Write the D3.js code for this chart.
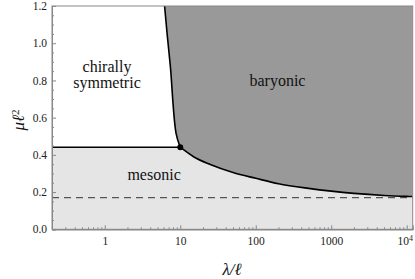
<!DOCTYPE html>
<html><head><meta charset="utf-8">
<script src="https://cdn.jsdelivr.net/npm/d3@7"></script>
<style>
body{margin:0;background:#fff;}
svg text{font-family:'Liberation Serif','DejaVu Serif',serif !important;}
</style></head>
<body><svg id="c" width="415" height="279" font-family="Liberation Serif"></svg>
<script>
// data
const xDomain = [0.2, 12000];
const yDomain = [0, 1.2];
const triple = [10, 0.441];
// baryonic / mesonic boundary (curve)
const curveX = [10, 15, 25, 50, 100, 200, 500, 1000, 2000, 5000, 10000, 12000];
const curveY = [0.441, 0.390, 0.348, 0.305, 0.274, 0.245, 0.220, 0.205, 0.193, 0.182, 0.177, 0.176];
// chirally symmetric / baryonic boundary
const upperX = [6.2, 6.75, 7.4, 8.8, 10];
const upperY = [1.2, 1.037, 0.874, 0.516, 0.441];
// asymptote
const dashedY = 0.170;
const xMajor = [1, 10, 100, 1000, 10000];
const xMajorLabels = ["1", "10", "100", "1000", "10^4"];
const yMajor = [0, 0.2, 0.4, 0.6, 0.8, 1.0, 1.2];
const regionLabels = [
  {lines:["chirally","symmetric"], x:1.07, y:0.83},
  {lines:["baryonic"], x:194, y:0.797},
  {lines:["mesonic"], x:4.5, y:0.292}
];

const FONT = "Liberation Serif";
const svg = d3.select("#c");
const m = {l:52, r:2.3, t:6, b:49.7};
const W = 415, H = 279;
const x = d3.scaleLog().domain(xDomain).range([m.l, W - m.r]);
const y = d3.scaleLinear().domain(yDomain).range([H - m.b, m.t]);

svg.append("clipPath").attr("id","clip").append("rect")
  .attr("x", m.l).attr("y", m.t).attr("width", W-m.r-m.l).attr("height", H-m.b-m.t);
const g = svg.append("g").attr("clip-path","url(#clip)");

const curvePts = curveX.map((v,i)=>[x(v), y(curveY[i])]);
const upperPts = upperX.map((v,i)=>[x(v), y(upperY[i])]);
const lineX = d3.line().curve(d3.curveMonotoneX);
const lineU = d3.line().curve(d3.curveCatmullRom);
const cPath = lineX(curvePts);
const uPath = lineU(upperPts);

// light gray region (mesonic)
g.append("path").attr("fill","#e5e5e5")
  .attr("d", `M${x(xDomain[0])},${y(0)}L${x(xDomain[0])},${y(triple[1])}L${x(triple[0])},${y(triple[1])}`
    + cPath.replace(/^M/,"L") + `L${x(xDomain[1])},${y(0)}Z`);
// dark gray region (baryonic)
g.append("path").attr("fill","#999999")
  .attr("d", uPath + cPath.replace(/^M/,"L") + `L${x(xDomain[1])},${y(1.2)}Z`);

// dashed asymptote
g.append("line").attr("x1", x(xDomain[0])).attr("x2", x(xDomain[1]))
  .attr("y1", y(dashedY)).attr("y2", y(dashedY))
  .attr("stroke","#555").attr("stroke-width",1.2).attr("stroke-dasharray","7,5");

// boundaries
g.append("line").attr("x1", x(xDomain[0])).attr("x2", x(triple[0]))
  .attr("y1", y(triple[1])).attr("y2", y(triple[1]))
  .attr("stroke","#000").attr("stroke-width",1.6);
g.append("path").attr("d", cPath).attr("fill","none").attr("stroke","#000").attr("stroke-width",1.6);
g.append("path").attr("d", uPath).attr("fill","none").attr("stroke","#000").attr("stroke-width",1.6);
g.append("circle").attr("cx", x(triple[0])).attr("cy", y(triple[1])).attr("r",3).attr("fill","#000");

// region labels
regionLabels.forEach(r=>{
  const t = svg.append("text").attr("text-anchor","middle").attr("font-size",16)
    .attr("font-family",FONT).attr("fill","#111");
  r.lines.forEach((s,i)=>{
    t.append("tspan").attr("x", x(r.x)).attr("y", y(r.y) + (i - (r.lines.length-1)/2)*16 + 5).text(s);
  });
});

// frame
svg.append("rect").attr("x", m.l).attr("y", m.t).attr("width", W-m.r-m.l).attr("height", H-m.b-m.t)
  .attr("fill","none").attr("stroke","#888").attr("stroke-width",1);

// minor ticks
const xMinor = [];
[0.1,1,10,100,1000,10000].forEach(d=>{for(let k=2;k<=9;k++){const v=d*k; if(v>=xDomain[0]&&v<=xDomain[1]) xMinor.push(v);}});
const yMinor = d3.range(0, 1.2001, 0.05).filter(v=>Math.abs(v/0.2-Math.round(v/0.2))>1e-6);

const axX = svg.append("g").attr("transform",`translate(0,${H-m.b})`)
  .call(d3.axisBottom(x).tickValues(xMajor).tickSize(-4).tickPadding(7.5)
    .tickFormat((d,i)=>xMajorLabels[i]));
svg.append("g").attr("transform",`translate(0,${H-m.b})`)
  .call(d3.axisBottom(x).tickValues(xMinor).tickSize(-2).tickFormat(""));
const axY = svg.append("g").attr("transform",`translate(${m.l},0)`)
  .call(d3.axisLeft(y).tickValues(yMajor).tickSize(-4).tickPadding(5).tickFormat(d3.format(".1f")));
svg.append("g").attr("transform",`translate(${m.l},0)`)
  .call(d3.axisLeft(y).tickValues(yMinor).tickSize(-2).tickFormat(""));

svg.selectAll("g").attr("font-family",FONT);
svg.selectAll(".domain").attr("stroke","#888");
svg.selectAll(".tick line").attr("stroke","#888");
svg.selectAll(".tick text").attr("font-family",FONT).attr("font-size",11.5).attr("fill","#222");

// superscript label
axX.selectAll(".tick text").each(function(d,i){
  const s = xMajorLabels[i];
  if (s.includes("^")) {
    const [b,e] = s.split("^");
    const t = d3.select(this).text(null).attr("text-anchor","middle").attr("x",-2);
    t.append("tspan").text(b);
    t.append("tspan").attr("dy","-0.45em").attr("font-size",8).text(e);
  }
});

// axis titles
svg.append("text").attr("x", 232).attr("y", 275).attr("text-anchor","middle").attr("font-family",FONT)
  .attr("font-size",17).attr("font-style","italic").attr("fill","#111").text("λ/ℓ");
const yt = svg.append("text").attr("transform","translate(24,120) rotate(-90)").attr("text-anchor","middle")
  .attr("font-family",FONT).attr("font-size",17).attr("font-style","italic").attr("fill","#111");
yt.append("tspan").text("μℓ");
yt.append("tspan").attr("dy","-0.45em").attr("font-size",11).attr("font-style","normal").text("2");
</script></body></html>
